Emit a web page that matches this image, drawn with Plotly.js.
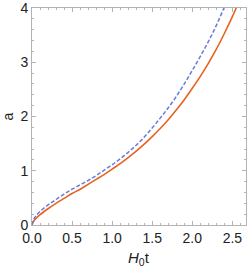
<!DOCTYPE html>
<html>
<head>
<meta charset="utf-8">
<script src="https://cdn.plot.ly/plotly-3.0.1.min.js"></script>
<style>html,body{margin:0;padding:0;background:#fff;}#chart{width:250px;height:270px;}</style>
</head>
<body>
<div id="chart"></div>
<script>
// time values H0 t
const tOrange = [0, 0.02, 0.05, 0.1, 0.2, 0.3, 0.4, 0.5, 0.6, 0.7, 0.8, 0.9, 1.0, 1.1, 1.2, 1.3, 1.4, 1.5, 1.6, 1.7, 1.8, 1.9, 2.0, 2.1, 2.2, 2.3, 2.4, 2.5, 2.6];
const aOrange = [0, 0.07, 0.12, 0.19, 0.30, 0.40, 0.49, 0.58, 0.66, 0.75, 0.84, 0.93, 1.03, 1.13, 1.24, 1.36, 1.49, 1.63, 1.78, 1.94, 2.12, 2.31, 2.52, 2.74, 2.98, 3.24, 3.53, 3.84, 4.18];
const tBlue = [0, 0.02, 0.05, 0.1, 0.2, 0.3, 0.4, 0.5, 0.6, 0.7, 0.8, 0.9, 1.0, 1.1, 1.2, 1.3, 1.4, 1.5, 1.6, 1.7, 1.8, 1.9, 2.0, 2.1, 2.2, 2.3, 2.4, 2.45];
const aBlue = [0, 0.10, 0.17, 0.25, 0.37, 0.47, 0.57, 0.66, 0.74, 0.82, 0.91, 1.01, 1.11, 1.22, 1.34, 1.47, 1.62, 1.79, 1.97, 2.16, 2.37, 2.60, 2.85, 3.11, 3.38, 3.68, 4.02, 4.2];
const xTickVals = [0, 0.5, 1.0, 1.5, 2.0, 2.5];
const xTickText = ['0.0', '0.5', '1.0', '1.5', '2.0', '2.5'];
const yTickVals = [0, 1, 2, 3, 4];
const yTickText = ['0', '1', '2', '3', '4'];
const xTitle = '<i>H</i><sub>0</sub>t';
const yTitle = 'a';

const traces = [
  {x: tOrange, y: aOrange, type: 'scatter', mode: 'lines',
   line: {color: '#e8621f', width: 1.6, shape: 'spline'}, hoverinfo: 'skip'},
  {x: tBlue, y: aBlue, type: 'scatter', mode: 'lines',
   line: {color: '#6a7bd6', width: 1.5, dash: '4px,2px', shape: 'spline'}, hoverinfo: 'skip'}
];

const fontFam = 'Liberation Sans, Arial, sans-serif';
const axisCommon = {
  showgrid: false, zeroline: false, showline: true, linecolor: '#b3b3b3', linewidth: 1,
  mirror: 'ticks', ticks: 'inside', ticklen: 4, tickwidth: 1, tickcolor: '#b3b3b3',
  tickfont: {family: fontFam, size: 14, color: '#222'},
  ticklabeloverflow: 'allow',
  tickmode: 'array'
};

const layout = {
  width: 250, height: 270,
  margin: {l: 32, r: 4, t: 8, b: 45},
  paper_bgcolor: '#fff', plot_bgcolor: '#fff',
  showlegend: false,
  xaxis: Object.assign({}, axisCommon, {
    range: [0, 2.67], tickvals: xTickVals, ticktext: xTickText,
    minor: {dtick: 0.1, tick0: 0, ticks: 'inside', ticklen: 2, tickcolor: '#b3b3b3'}
  }),
  yaxis: Object.assign({}, axisCommon, {
    range: [0, 4], tickvals: yTickVals, ticktext: yTickText,
    minor: {dtick: 0.2, tick0: 0, ticks: 'inside', ticklen: 2, tickcolor: '#b3b3b3'},
    title: {text: yTitle, font: {family: fontFam, size: 14, color: '#222'}, standoff: 6}
  }),
  annotations: [{
    text: xTitle, xref: 'paper', yref: 'paper', x: 0.5, y: -0.155,
    xanchor: 'center', yanchor: 'middle', showarrow: false,
    font: {family: fontFam, size: 15, color: '#222'}
  }]
};

Plotly.newPlot('chart', traces, layout, {displayModeBar: false, staticPlot: true});
</script>
</body>
</html>
